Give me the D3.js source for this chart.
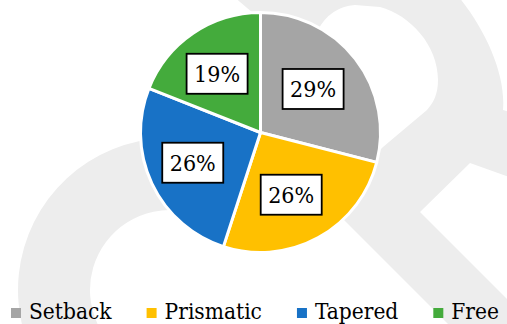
<!DOCTYPE html>
<html>
<head>
<meta charset="utf-8">
<script src="https://cdn.jsdelivr.net/npm/d3@7"></script>
<style>
  html, body { margin: 0; padding: 0; background: #ffffff; }
  svg { display: block; }
  .serif { font-family: "DejaVu Serif Condensed", "DejaVu Serif", serif; font-stretch: condensed; }
</style>
</head>
<body>
<svg id="chart" width="507" height="324"></svg>
<script>
// Share of each building form, in percent
const categories = ["Setback", "Prismatic", "Tapered", "Free"];
const shares = [29, 26, 26, 19];
const sliceColors = ["#a5a5a5", "#ffc000", "#1872c6", "#44ab3c"];

const width = 507, height = 324;
const svg = d3.select("#chart");

// Light background emblem behind the chart
const mark = svg.append("g").attr("fill", "#ededed");
mark.append("path")
  .attr("d", d3.arc()({
    innerRadius: 80, outerRadius: 152,
    startAngle: -115 * Math.PI / 180, endAngle: 50 * Math.PI / 180
  }))
  .attr("transform", "translate(170,290)");
mark.append("path")
  .attr("fill-rule", "evenodd")
  .attr("d",
    "M233,-4 L458,-4 C486,30 506,75 503,110 L512,113 L512,178 L470,163 L420,212 L380,252 L290,170 L253,13 Z " +
    "M340,190 L300,100 L318,30 Q330,7 355,5 L380,7 C410,15 438,45 438,80 C438,95 433,103 427,110 L383,147 Z");
mark.append("path")
  .attr("d", "M300,176 L340,132 L560,352 L520,396 Z");

// Pie
const cx = 260.5, cy = 132.5, radius = 120;
const pie = d3.pie().sort(null).value(d => d);
const arcs = pie(shares);
const arc = d3.arc().innerRadius(0).outerRadius(radius);
const labelArc = d3.arc().innerRadius(71).outerRadius(71);

const g = svg.append("g").attr("transform", `translate(${cx},${cy})`);
g.selectAll("path.slice")
  .data(arcs)
  .join("path")
  .attr("class", "slice")
  .attr("d", arc)
  .attr("fill", (d, i) => sliceColors[i])
  .attr("stroke", "#ffffff")
  .attr("stroke-width", 3)
  .attr("stroke-linejoin", "round");

// Boxed percentage labels
const labels = g.selectAll("g.lbl")
  .data(arcs)
  .join("g")
  .attr("class", "lbl")
  .attr("transform", d => {
    const [x, y] = labelArc.centroid(d);
    return `translate(${x - 4},${y})`;
  });
labels.append("rect")
  .attr("x", -30).attr("y", -20)
  .attr("width", 61).attr("height", 40)
  .attr("fill", "#ffffff")
  .attr("stroke", "#000000")
  .attr("stroke-width", 1.8);
labels.append("text")
  .attr("class", "serif")
  .attr("text-anchor", "middle")
  .attr("x", 0.5)
  .attr("y", 8.5)
  .style("font-size", "23px")
  .attr("fill", "#000000")
  .text(d => `${d.data}%`);

// Legend along the bottom
const legend = svg.append("g");
let lx = 11;
categories.forEach((name, i) => {
  legend.append("rect")
    .attr("x", lx).attr("y", 308)
    .attr("width", 10).attr("height", 10)
    .attr("fill", sliceColors[i]);
  const t = legend.append("text")
    .attr("class", "serif")
    .attr("x", lx + 18).attr("y", 318.5)
    .style("font-size", "22.5px")
    .attr("fill", "#000000")
    .text(name);
  lx += 18 + t.node().getComputedTextLength() + 35;
});
</script>
</body>
</html>
